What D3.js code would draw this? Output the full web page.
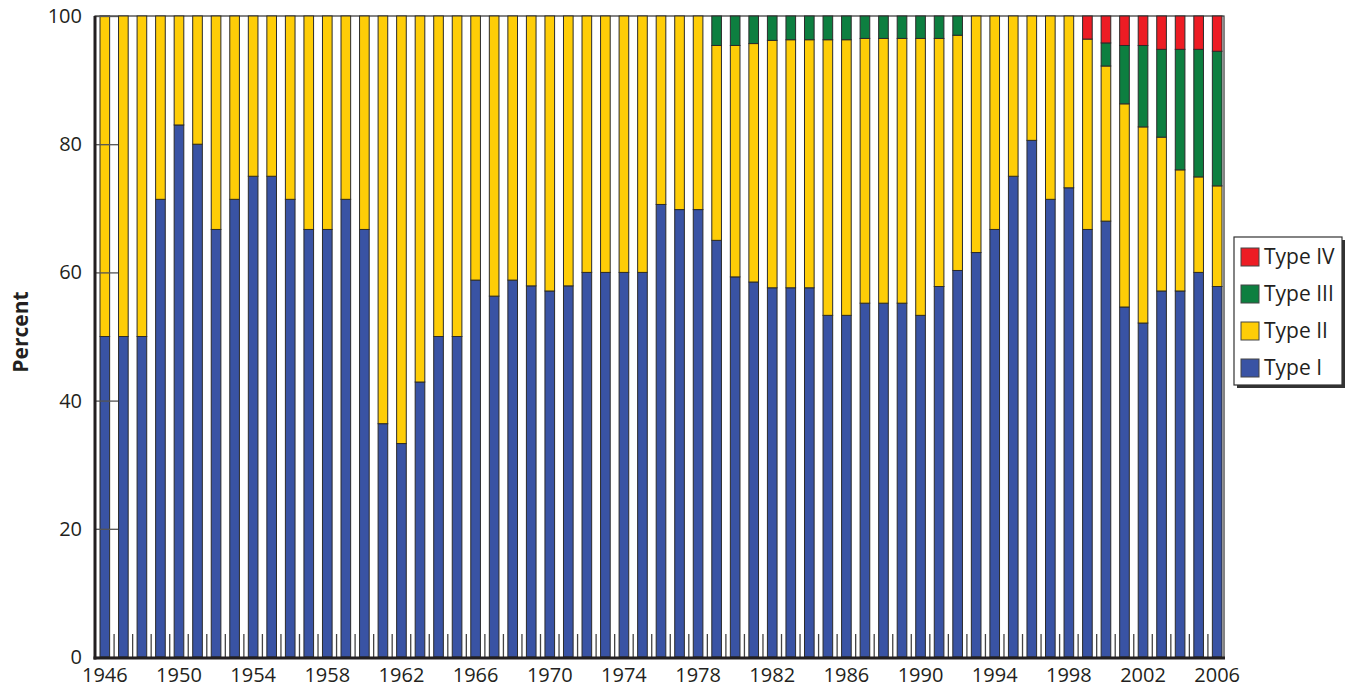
<!DOCTYPE html>
<html>
<head>
  <meta charset="utf-8">
  <title>Percent by Type, 1946-2006</title>
  <style>
    body { margin: 0; background: #fff; }
    text { font-family: "Open Sans", "Noto Sans", sans-serif; fill: #231f20; }
  </style>
</head>
<body>
  <script src="https://d3js.org/d3.v7.min.js"></script>
  <script type="text/javascript">
  // data (percent per type, stacked to 100)
  var years = d3.range(1946, 2007);

  var typeI = [50, 50, 50, 71.4, 83, 80, 66.7, 71.4, 75, 75,
               71.4, 66.7, 66.7, 71.4, 66.7, 36.4, 33.3, 42.9, 50, 50,
               58.8, 56.3, 58.8, 57.9, 57.1, 57.9, 60, 60, 60, 60,
               70.6, 69.8, 69.8, 65, 59.3, 58.5, 57.6, 57.6, 57.6, 53.3,
               53.3, 55.2, 55.2, 55.2, 53.3, 57.8, 60.3, 63.1, 66.7, 75,
               80.6, 71.4, 73.2, 66.7, 68, 54.6, 52.1, 57.1, 57.1, 60, 57.8];

  var typeII = [50, 50, 50, 28.6, 17, 20, 33.3, 28.6, 25, 25,
                28.6, 33.3, 33.3, 28.6, 33.3, 63.6, 66.7, 57.1, 50, 50,
                41.2, 43.7, 41.2, 42.1, 42.9, 42.1, 40, 40, 40, 40,
                29.4, 30.2, 30.2, 30.4, 36.1, 37.2, 38.6, 38.7, 38.7, 43.0,
                43.0, 41.3, 41.3, 41.3, 43.2, 38.7, 36.7, 36.9, 33.3, 25,
                19.4, 28.6, 26.8, 29.7, 24.2, 31.7, 30.6, 24.0, 18.9, 14.9, 15.7];

  var typeIII = [0, 0, 0, 0, 0, 0, 0, 0, 0, 0,
                 0, 0, 0, 0, 0, 0, 0, 0, 0, 0,
                 0, 0, 0, 0, 0, 0, 0, 0, 0, 0,
                 0, 0, 0, 4.6, 4.6, 4.3, 3.8, 3.7, 3.7, 3.7,
                 3.7, 3.5, 3.5, 3.5, 3.5, 3.5, 3.0, 0, 0, 0,
                 0, 0, 0, 0, 3.6, 9.1, 12.7, 13.7, 18.8, 19.9, 21.0];

  var typeIV = [0, 0, 0, 0, 0, 0, 0, 0, 0, 0,
                0, 0, 0, 0, 0, 0, 0, 0, 0, 0,
                0, 0, 0, 0, 0, 0, 0, 0, 0, 0,
                0, 0, 0, 0, 0, 0, 0, 0, 0, 0,
                0, 0, 0, 0, 0, 0, 0, 0, 0, 0,
                0, 0, 0, 3.6, 4.2, 4.6, 4.6, 5.2, 5.2, 5.2, 5.5];

  var seriesNames = ["Type I", "Type II", "Type III", "Type IV"];
  var seriesColors = ["#3953a4", "#fecd07", "#0d7f40", "#ed1c24"];
  var yTicks = [0, 20, 40, 60, 80, 100];
  var xLabelYears = [1946, 1950, 1954, 1958, 1962, 1966, 1970, 1974, 1978,
                     1982, 1986, 1990, 1994, 1998, 2002, 2006];

  var W = 1346, H = 693;
  var plot = {left: 95, right: 1224, top: 16, bottom: 658};

  var table = years.map(function(y, i) {
    return {year: y, "Type I": typeI[i], "Type II": typeII[i],
            "Type III": typeIII[i], "Type IV": typeIV[i]};
  });

  var svg = d3.select("body").append("svg")
      .attr("width", W)
      .attr("height", H);

  var x = d3.scaleBand()
      .domain(years)
      .range([100, 1222])
      .paddingInner(0.48)
      .paddingOuter(0);

  var y = d3.scaleLinear()
      .domain([0, 100])
      .range([657, 16]);

  var color = d3.scaleOrdinal().domain(seriesNames).range(seriesColors);

  var stacked = d3.stack().keys(seriesNames)(table);

  // frame (top + right thin)
  svg.append("rect")
      .attr("x", plot.left)
      .attr("y", plot.top)
      .attr("width", plot.right - plot.left)
      .attr("height", plot.bottom - plot.top)
      .attr("fill", "none")
      .attr("stroke", "#333")
      .attr("stroke-width", 1.2);

  // bars
  svg.append("g").selectAll("g")
      .data(stacked)
      .enter().append("g")
      .attr("fill", function(d) { return color(d.key); })
      .selectAll("rect")
      .data(function(d) { return d.filter(function(e) { return e[1] - e[0] > 0; }); })
      .enter().append("rect")
      .attr("x", function(d) { return x(d.data.year); })
      .attr("y", function(d) { return y(d[1]); })
      .attr("width", x.bandwidth())
      .attr("height", function(d) { return y(d[0]) - y(d[1]); })
      .attr("stroke", "#2b2b2b")
      .attr("stroke-width", 1);

  // small ticks in the gaps between bars
  var gap = x.step() - x.bandwidth();
  svg.append("g").selectAll("line")
      .data(years.slice(0, -1))
      .enter().append("line")
      .attr("x1", function(d) { return x(d) + x.bandwidth() + gap / 2; })
      .attr("x2", function(d) { return x(d) + x.bandwidth() + gap / 2; })
      .attr("y1", 634)
      .attr("y2", 657)
      .attr("stroke", "#444")
      .attr("stroke-width", 1.3);

  // y axis, ticks pointing inward
  var yAxis = svg.append("g")
      .attr("transform", "translate(" + plot.left + ",0)")
      .call(d3.axisLeft(y).tickValues(yTicks).tickSize(-23).tickPadding(13));
  yAxis.select(".domain").remove();
  yAxis.selectAll(".tick line").attr("stroke", "#555").attr("stroke-width", 1.3);
  yAxis.selectAll(".tick text")
      .attr("font-size", "20px")
      .attr("font-family", "Open Sans, Noto Sans, sans-serif")
      .attr("fill", "#231f20");

  // x axis labels
  var xAxis = svg.append("g")
      .attr("transform", "translate(0," + plot.bottom + ")")
      .call(d3.axisBottom(x).tickValues(xLabelYears).tickSize(0).tickPadding(10));
  xAxis.select(".domain").remove();
  xAxis.selectAll(".tick text")
      .attr("font-size", "20px")
      .attr("font-family", "Open Sans, Noto Sans, sans-serif")
      .attr("fill", "#231f20");

  // heavy left and bottom axis lines
  svg.append("line")
      .attr("x1", plot.left).attr("x2", plot.left)
      .attr("y1", plot.top).attr("y2", plot.bottom + 1.5)
      .attr("stroke", "#231f20").attr("stroke-width", 3);
  svg.append("line")
      .attr("x1", plot.left - 1.5).attr("x2", plot.right + 1)
      .attr("y1", plot.bottom).attr("y2", plot.bottom)
      .attr("stroke", "#231f20").attr("stroke-width", 3);

  // y title
  svg.append("text")
      .attr("transform", "translate(28,332) rotate(-90)")
      .attr("text-anchor", "middle")
      .attr("font-size", "21px")
      .attr("font-weight", "bold")
      .text("Percent");

  // legend
  var lg = svg.append("g").attr("transform", "translate(1234,237)");
  lg.append("rect")
      .attr("x", 3).attr("y", 3)
      .attr("width", 108).attr("height", 148)
      .attr("fill", "#333");
  lg.append("rect")
      .attr("width", 108).attr("height", 148)
      .attr("fill", "#fff")
      .attr("stroke", "#333")
      .attr("stroke-width", 1.2);

  var items = lg.selectAll(".item")
      .data(seriesNames.slice().reverse())
      .enter().append("g")
      .attr("class", "item")
      .attr("transform", function(d, i) { return "translate(7," + (11 + i * 37) + ")"; });
  items.append("rect")
      .attr("width", 18).attr("height", 18)
      .attr("fill", function(d) { return color(d); })
      .attr("stroke", "#444")
      .attr("stroke-width", 1);
  items.append("text")
      .attr("x", 23)
      .attr("y", 16)
      .attr("font-size", "21px")
      .text(function(d) { return d; });
  </script>
</body>
</html>
